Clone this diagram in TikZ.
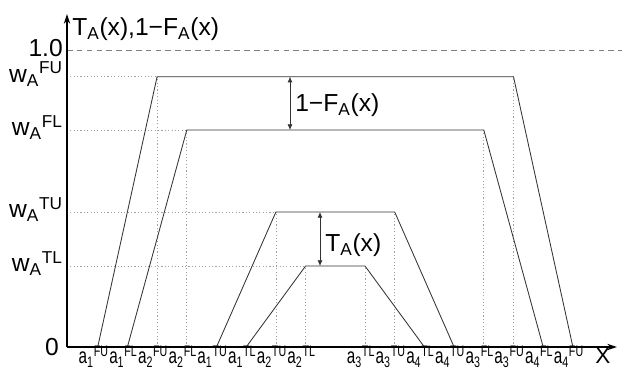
\documentclass[tikz,border=0pt]{standalone}
\usepackage{fontspec}
\setmainfont{Liberation Sans}
\newfontfamily\narrowfont{Liberation Sans}[FakeStretch=0.7]
\usetikzlibrary{arrows.meta,positioning}
\definecolor{curve}{HTML}{333333}
\definecolor{guide}{HTML}{A0A0A0}
\newcommand{\wlev}[1]{w\textsubscript{A}\textsuperscript{#1}}
\newcommand{\apt}[2]{a\textsubscript{#1}\textsuperscript{#2}}

\begin{document}
\begin{tikzpicture}[x=0.025cm, y=0.025cm,
  axis/.style={-{Stealth[length=7pt,width=4.5pt]}, line width=0.9pt},
  trap/.style={draw=curve, line width=0.6pt},
  guideline/.style={guide, line width=0.5pt, dash pattern=on 0.8pt off 1.6pt},
  onedash/.style={gray, line width=0.6pt, dash pattern=on 4pt off 3pt},
  dim/.style={{Latex[length=4pt,width=3.5pt]}-{Latex[length=4pt,width=3.5pt]}, draw=curve, line width=0.5pt},
  ylbl/.style={anchor=base east, inner sep=0pt, font=\fontsize{17.5}{20}\selectfont},
  xlbl/.style={anchor=base, inner sep=0pt, font=\narrowfont\fontsize{15.5}{18}\selectfont},
  txt/.style={anchor=base west, inner sep=0pt, font=\fontsize{17.5}{20}\selectfont}
]
  \useasboundingbox (-67,-22) rectangle (560,347);

  \coordinate (O) at (0,0);
  \coordinate (xEnd) at (550,0);
  \coordinate (yEnd) at (0,333);
  \coordinate (one) at (0,297);
  \coordinate (oneEnd) at (555,297);
  \coordinate (wFU) at (0,270.3);
  \coordinate (wFL) at (0,217);
  \coordinate (wTU) at (0,135);
  \coordinate (wTL) at (0,81);

  \foreach \n/\x/\i/\s in {a1FU/30.7/1/FU, a1FL/60.4/1/FL, a2FU/90.1/2/FU, a2FL/119.8/2/FL,
      a1TU/149.5/1/TU, a1TL/179.2/1/TL, a2TU/208.9/2/TU, a2TL/238.6/2/TL,
      a3TL/298/3/TL, a3TU/327.7/3/TU, a4TL/357.4/4/TL, a4TU/387.1/4/TU,
      a3FL/416.8/3/FL, a3FU/446.5/3/FU, a4FL/476.2/4/FL, a4FU/505.9/4/FU} {
    \coordinate (\n) at (\x,0);
    \node[xlbl] (l\n) at (\x-4,-17) {\apt{\i}{\s}};
  }

  \foreach \k in {FU,FL,TU,TL} {
    \draw[guideline] (w\k) -- (a2\k |- w\k);
    \draw[guideline] (a2\k) -- (a2\k |- w\k);
    \draw[guideline] (a3\k) -- (a3\k |- w\k);
  }

  \draw[onedash] (one) -- (oneEnd);

  \foreach \k in {FU,FL,TU,TL}
    \draw[trap] (a1\k) -- (a2\k |- w\k) -- (a3\k |- w\k) -- (a4\k);

  \coordinate (fTop) at (223,270.3);
  \coordinate (fBot) at (223,217);
  \coordinate (tTop) at (253,135);
  \coordinate (tBot) at (253,81);
  \draw[dim] (fTop) -- (fBot);
  \draw[dim] (tTop) -- (tBot);
  \node[txt] (lF) at (228,235) {1−F\textsubscript{A}(x)};
  \node[txt] (lT) at (258,95) {T\textsubscript{A}(x)};

  \draw[axis] (O) -- (xEnd);
  \draw[axis] (O) -- (yEnd);

  \node[txt] (title) at (5,311) {T\textsubscript{A}(x),1−F\textsubscript{A}(x)};
  \node[ylbl] (lone) at (-4,290) {1.0};
  \node[ylbl] (lFU) at (-4,264.3) {\wlev{FU}};
  \node[ylbl] (lFL) at (-4,211) {\wlev{FL}};
  \node[ylbl] (lTU) at (-4,129) {\wlev{TU}};
  \node[ylbl] (lTL) at (-4,75) {\wlev{TL}};
  \node[anchor=east, inner sep=0pt, font=\fontsize{17.5}{20}\selectfont] (lO) at (-8,0) {0};
  \node[xlbl, anchor=base west, font=\fontsize{16}{18}\selectfont] (lX) at (528,-17) {X};
\end{tikzpicture}
\end{document}
